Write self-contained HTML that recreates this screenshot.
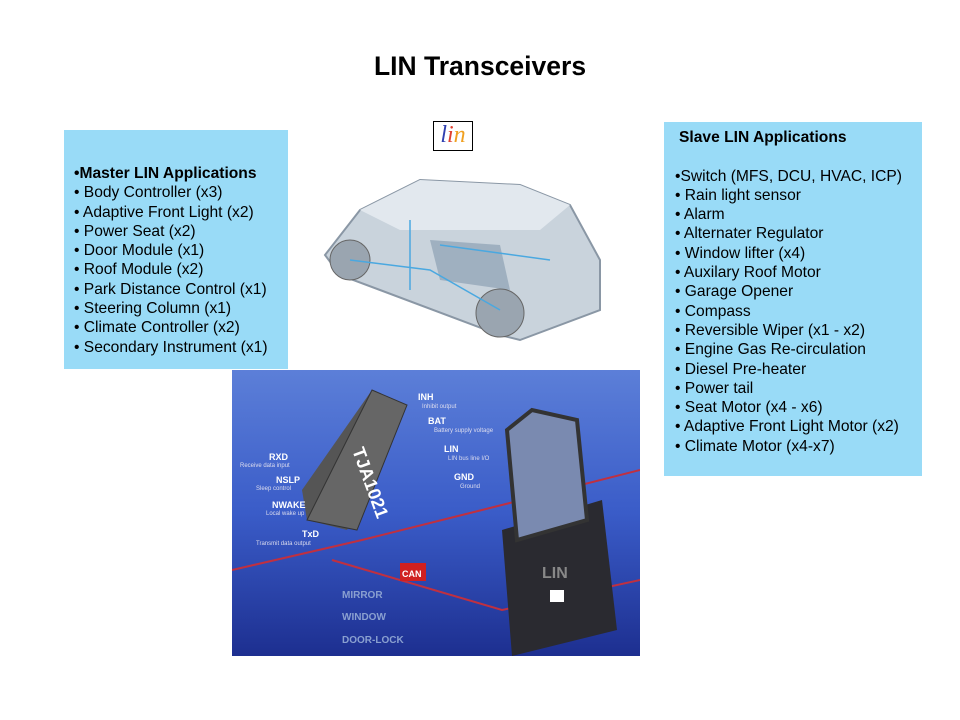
<!DOCTYPE html>
<html><head><meta charset="utf-8"><style>
body{margin:0;width:960px;height:720px;background:#fff;position:relative;overflow:hidden;font-family:"Liberation Sans",sans-serif}
.t{position:absolute;left:0;width:960px;top:51px;text-align:center;font-weight:bold;font-size:26.5px}
.box{position:absolute;background:#99dbf7;font-size:15.6px;line-height:19.3px;color:#000}
.box div{white-space:nowrap}
</style></head><body>
<div class="t">LIN Transceivers</div>
<div class="box" style="left:64px;top:130px;width:224px;height:239px;">
<div style="padding:34px 0 0 10px">
<div style="font-weight:bold">•Master LIN Applications</div>
<div>• Body Controller (x3)</div><div>• Adaptive Front Light (x2)</div><div>• Power Seat (x2)</div><div>• Door Module (x1)</div><div>• Roof Module (x2)</div><div>• Park Distance Control (x1)</div><div>• Steering Column (x1)</div><div>• Climate Controller (x2)</div><div>• Secondary Instrument  (x1)</div>
</div></div>
<div class="box" style="left:664px;top:122px;width:258px;height:354px;">
<div style="padding:6px 0 0 11px">
<div style="font-weight:bold;margin-left:4px">Slave LIN Applications</div><div>&nbsp;</div>
<div>•Switch (MFS, DCU, HVAC, ICP)</div><div>• Rain light sensor</div><div>• Alarm</div><div>• Alternater Regulator</div><div>• Window lifter (x4)</div><div>• Auxilary Roof Motor</div><div>• Garage Opener</div><div>• Compass</div><div>• Reversible Wiper (x1 - x2)</div><div>• Engine Gas Re-circulation</div><div>• Diesel Pre-heater</div><div>• Power tail</div><div>• Seat Motor (x4 - x6)</div><div>• Adaptive Front Light Motor (x2)</div><div>• Climate Motor (x4-x7)</div>
</div></div>
<div style="position:absolute;left:433px;top:121px;width:40px;height:30px;border:1px solid #000;box-sizing:border-box;font-family:'Liberation Serif',serif;font-style:italic;font-size:24px;line-height:26px;text-align:center"><span style="color:#3040b0">l</span><span style="color:#e04030">i</span><span style="color:#f0a020">n</span></div>
<svg style="position:absolute;left:300px;top:150px" width="330" height="210">
<path d="M25 105 L60 60 L120 30 L220 35 L270 55 L300 110 L300 160 L220 190 L200 185 L40 125 Z" fill="#c9d3dc" stroke="#8a97a5" stroke-width="2"/>
<path d="M60 60 L120 30 L220 35 L270 55 L240 80 L100 80 Z" fill="#e2e8ee"/>
<path d="M130 90 L200 95 L210 140 L140 130 Z" fill="#9fb0c0"/>
<circle cx="50" cy="110" r="20" fill="#9aa5b0" stroke="#666"/><circle cx="200" cy="163" r="24" fill="#9aa5b0" stroke="#666"/>
<path d="M50 110 L130 120 L200 160 M110 70 L110 140 M140 95 L250 110" stroke="#4aa8e0" stroke-width="1.5" fill="none"/>
</svg>
<div style="position:absolute;left:232px;top:370px;width:408px;height:286px;background:linear-gradient(180deg,#5c7fd8 0%,#3a5cc8 50%,#1d2f90 100%);overflow:hidden">
<svg width="408" height="286" style="position:absolute;left:0;top:0">
<path d="M140 20 L170 40 L115 160 L75 150 L70 120 Z" fill="#555"/>
<path d="M140 20 L175 35 L125 160 L75 150 Z" fill="#666" stroke="#333"/>
<text x="120" y="80" transform="rotate(70 120 80)" font-family="Liberation Sans" font-weight="bold" font-size="18" fill="#fff">TJA1021</text>
<g font-family="Liberation Sans" font-weight="bold" fill="#fff" font-size="9"><text x="186" y="30">INH</text><text x="196" y="54">BAT</text><text x="212" y="82">LIN</text><text x="222" y="110">GND</text><text x="37" y="90">RXD</text><text x="44" y="113">NSLP</text><text x="40" y="138">NWAKE</text><text x="70" y="167">TxD</text></g>
<g font-family="Liberation Sans" fill="#dde" font-size="6"><text x="190" y="38">Inhibit output</text><text x="202" y="62">Battery supply voltage</text><text x="216" y="90">LIN bus line I/O</text><text x="228" y="118">Ground</text><text x="8" y="97">Receive data input</text><text x="24" y="120">Sleep control</text><text x="34" y="145">Local wake up</text><text x="24" y="175">Transmit data output</text></g>
<path d="M0 200 L130 170 L250 140 L408 100 M100 190 L270 240 L408 210" stroke="#c03040" stroke-width="2" fill="none"/>
<rect x="168" y="193" width="26" height="18" fill="#d02020"/><text x="170" y="207" font-family="Liberation Sans" font-weight="bold" font-size="9" fill="#fff">CAN</text>
<g font-family="Liberation Sans" font-weight="bold" fill="#8aa0d0" font-size="10"><text x="110" y="228">MIRROR</text><text x="110" y="250">WINDOW</text><text x="110" y="273">DOOR-LOCK</text></g>
<path d="M270 160 L370 130 L385 260 L280 286 Z" fill="#2a2a30"/>
<path d="M275 60 L300 40 L345 50 L355 150 L285 170 Z" fill="#7a8ab0" stroke="#333" stroke-width="4"/>
<rect x="318" y="220" width="14" height="12" fill="#fff"/>
<text x="310" y="208" font-family="Liberation Sans" font-weight="bold" font-size="16" fill="#888">LIN</text>
</svg></div>
</body></html>
